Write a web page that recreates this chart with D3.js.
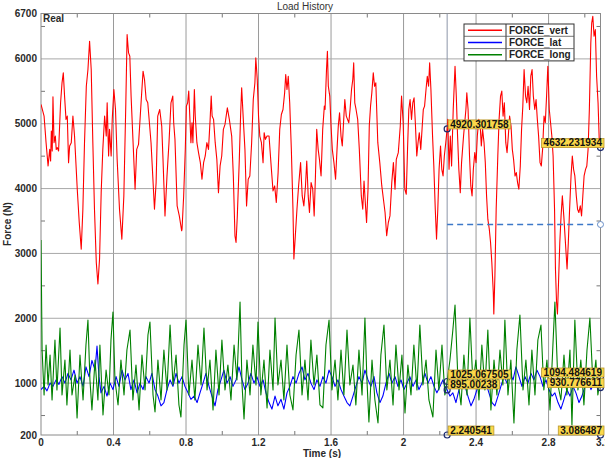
<!DOCTYPE html>
<html><head><meta charset="utf-8">
<script src="https://cdn.jsdelivr.net/npm/d3@7"></script>
<style>body{margin:0;background:#fff;overflow:hidden} text{font-family:"Liberation Sans",Arial,sans-serif}</style>
</head><body><svg id="c" width="605" height="458"></svg>
<script>
// ---- data ----
const forceVert = [[0,5297],[0.017,5118],[0.028,4708],[0.039,4350],[0.048,4605],[0.053,4426],[0.057,4887],[0.062,4580],[0.066,5415],[0.072,4708],[0.079,4810],[0.084,4605],[0.090,4631],[0.097,4580],[0.108,5323],[0.116,5631],[0.123,5785],[0.130,5426],[0.138,5067],[0.145,5118],[0.152,4400],[0.158,4656],[0.167,4708],[0.176,5118],[0.185,4810],[0.200,3990],[0.211,3477],[0.222,3067],[0.231,3682],[0.240,4708],[0.250,5579],[0.259,5836],[0.268,6272],[0.277,5836],[0.286,4708],[0.295,3682],[0.305,2861],[0.314,2528],[0.323,2913],[0.332,3938],[0.341,4605],[0.351,5118],[0.360,4810],[0.365,5323],[0.373,4503],[0.378,4913],[0.387,4503],[0.393,5067],[0.402,5528],[0.411,5220],[0.420,4451],[0.433,3682],[0.446,3221],[0.457,3887],[0.468,5323],[0.475,6374],[0.483,6092],[0.490,6041],[0.497,5426],[0.508,4708],[0.519,3990],[0.528,4605],[0.538,4682],[0.552,5323],[0.563,5810],[0.571,5682],[0.580,5374],[0.589,5323],[0.607,4708],[0.626,3682],[0.635,4092],[0.644,5118],[0.655,5220],[0.666,4964],[0.673,4451],[0.684,3579],[0.695,4195],[0.706,4708],[0.717,5323],[0.727,5426],[0.732,5015],[0.739,4759],[0.751,3733],[0.763,3579],[0.776,3349],
[0.778,3374],[0.787,3887],[0.796,4605],[0.802,5272],[0.809,5323],[0.815,5503],[0.820,5169],[0.827,4708],[0.833,5015],[0.838,4708],[0.846,5528],[0.851,5118],[0.860,4708],[0.869,4554],[0.879,4400],[0.888,4144],[0.897,4400],[0.906,4503],[0.915,4708],[0.924,4605],[0.933,5067],[0.939,5426],[0.944,5118],[0.952,5067],[0.961,4708],[0.970,4451],[0.979,3938],[0.988,4349],[0.997,4503],[1.006,4913],[1.015,4990],[1.028,5246],[1.039,5067],[1.052,4810],[1.061,4195],[1.070,3272],[1.076,3169],[1.083,3579],[1.094,4451],[1.101,5118],[1.107,5554],[1.116,5067],[1.125,4605],[1.134,3733],[1.143,4144],[1.152,4195],[1.162,4708],[1.171,5374],[1.180,5631],[1.185,6015],[1.193,5682],[1.200,5118],[1.207,4810],[1.216,4708],[1.225,4400],[1.231,4862],[1.238,4759],[1.247,4810],[1.258,4810],[1.271,4297],[1.280,3964],[1.289,4041],[1.298,3785],[1.308,4246],[1.317,4913],[1.326,5143],[1.335,5220],[1.344,5476],[1.350,5759],[1.357,5528],[1.364,5733],[1.372,5323],[1.381,4605],[1.390,3682],[1.395,2913],[1.403,3272],[1.412,3682],[1.421,4041],[1.432,4400],[1.441,3887],[1.450,3733],[1.459,4041],[1.466,4426],[1.474,3887],[1.481,3631],[1.490,4092],[1.499,3990],[1.507,3579],[1.514,4195],[1.521,4913],[1.529,4605],[1.536,4451],[1.545,4195],[1.554,4913],[1.563,5272],
[1.567,5220],[1.575,5836],[1.580,6118],[1.585,5579],[1.593,5426],[1.600,4964],[1.607,4605],[1.616,4400],[1.625,4144],[1.633,4605],[1.640,4964],[1.647,5169],[1.655,4810],[1.662,4656],[1.669,5015],[1.676,5374],[1.684,5118],[1.691,5067],[1.698,5015],[1.705,5220],[1.713,5528],[1.720,5682],[1.725,5938],[1.731,5323],[1.738,5220],[1.747,5067],[1.756,4605],[1.767,3887],[1.775,3682],[1.782,4118],[1.789,3785],[1.796,3477],[1.804,3990],[1.811,4964],[1.818,5272],[1.825,5476],[1.833,5784],[1.840,5579],[1.847,5631],[1.858,4708],[1.869,4400],[1.880,4041],[1.889,3836],[1.898,3631],[1.907,3272],[1.916,3477],[1.925,3579],[1.935,4092],[1.944,4400],[1.953,3990],[1.960,4451],[1.971,4554],[1.982,4964],[1.989,5426],[1.998,5015],[2.007,3990],[2.015,3913],[2.022,4605],[2.029,5220],[2.036,5374],[2.044,5067],[2.051,5323],[2.058,5400],[2.065,5015],[2.073,4503],[2.080,4708],[2.087,4862],[2.095,4605],[2.102,4913],[2.109,5220],[2.116,5272],[2.124,5528],[2.131,5733],[2.138,5579],[2.144,5938],[2.151,5528],[2.160,4810],[2.167,4349],[2.175,3682],[2.182,3221],[2.189,3682],[2.196,4297],[2.204,4656],[2.211,4297],[2.218,4195],[2.225,4503],[2.233,4708],[2.240541,4920.301758],[2.244,5067],[2.251,4297],[2.258,4810],[2.265,4349],[2.274,5220],[2.284,5887],[2.291,5426],[2.298,4810],[2.305,4297],[2.313,3938],[2.320,4400],[2.331,4810],[2.344,5220],
[2.349,5476],[2.356,5220],[2.364,4503],[2.371,4041],[2.378,3887],[2.385,4297],[2.393,4554],[2.400,4400],[2.407,4810],[2.415,5067],[2.422,5015],[2.429,4656],[2.436,4913],[2.444,4708],[2.451,4400],[2.458,3887],[2.465,3528],[2.473,3374],[2.480,3169],[2.487,2861],[2.495,2400],[2.498,2067],[2.504,2656],[2.511,3682],[2.520,4503],[2.527,5067],[2.535,5426],[2.542,5503],[2.549,5118],[2.556,5323],[2.564,4708],[2.571,4554],[2.578,4810],[2.585,5118],[2.593,4964],[2.600,4605],[2.607,4451],[2.615,4195],[2.622,4246],[2.629,4092],[2.636,3990],[2.644,4349],[2.651,4913],[2.658,5272],[2.665,5836],[2.673,5426],[2.680,5323],[2.687,5579],[2.695,5220],[2.702,5733],[2.709,5836],[2.716,5426],[2.724,5220],[2.731,5374],[2.738,5067],[2.745,4810],[2.753,4400],[2.760,4349],[2.767,4605],[2.775,5118],[2.782,5015],[2.789,5426],[2.796,5887],[2.804,5220],[2.811,5015],[2.818,4810],[2.825,4503],[2.833,3682],[2.838,2759],[2.844,2246],[2.849,2067],[2.855,2554],[2.862,3169],[2.869,3579],[2.876,3887],[2.884,3579],[2.893,3169],[2.902,2759],[2.909,3169],[2.916,3682],[2.924,4195],[2.931,4503],[2.938,4297],[2.945,4195],[2.953,3887],[2.960,3682],[2.967,3631],[2.975,3733],[2.982,3579],[2.989,3887],[2.996,4195],[3.004,4297],[3.011,4349],[3.018,4605],[3.025,5220],[3.033,6246],[3.038,6554],[3.044,6656],[3.051,6349],[3.058,6451],[3.065,5733],[3.073,5323],[3.080,4708],[3.086487,4632.231934]];

const forceLat = [[0,900],[0.017,950],[0.033,880],[0.050,1000],[0.066,950],[0.083,1050],[0.099,980],[0.116,1100],[0.132,1000],[0.149,1150],[0.165,1050],[0.182,1200],[0.199,1000],[0.215,1100],[0.232,950],[0.248,1250],[0.265,1100],[0.281,1350],[0.298,1200],[0.309,1570],[0.320,1100],[0.331,850],[0.348,950],[0.364,800],[0.381,1000],[0.397,900],[0.414,1100],[0.430,950],[0.447,1200],[0.463,1050],[0.480,1150],[0.496,900],[0.513,1050],[0.530,850],[0.546,1000],[0.563,900],[0.579,1100],[0.596,1000],[0.612,1150],[0.629,900],[0.645,800],[0.662,650],[0.678,700],[0.695,900],[0.712,1050],[0.728,950],[0.745,1150],[0.761,1000],[0.778,1100],[0.794,950],[0.811,850],[0.827,750],[0.844,800],[0.861,700],[0.877,850],[0.894,1000],[0.910,1150],[0.927,950],[0.943,800],[0.960,650],[0.976,900],[0.993,1050],[1.009,1200],[1.026,1000],[1.043,1100],[1.059,950],[1.076,1050],[1.092,1250],[1.109,1050],[1.125,900],[1.142,1000],[1.158,1150],[1.175,1000],[1.191,1100],[1.208,950],[1.225,1050],[1.241,850],[1.258,700],[1.274,600],[1.291,800],[1.307,650],[1.324,750],[1.340,600],[1.357,850],[1.373,950],[1.390,1100],[1.407,1000],[1.423,1150],[1.440,1250],[1.456,1050],[1.473,1150],[1.489,1000],[1.506,900],[1.522,1050],[1.539,950],[1.555,1100],[1.572,1000],[1.589,1200],[1.605,1100],[1.622,950],[1.638,1050],[1.655,900],[1.671,800],[1.688,700],[1.704,650],[1.721,800],[1.737,950],[1.754,1100],[1.771,1000],[1.787,1200],[1.804,1050],[1.820,950],[1.837,1100],[1.853,850],[1.870,700],[1.886,800],[1.903,1000],[1.920,1150],[1.936,1000],[1.953,1100],[1.969,950],[1.986,1050],[2.002,900],[2.019,1000],[2.035,1100],[2.052,950],[2.069,1050],[2.085,900],[2.102,1000],[2.118,1150],[2.135,1000],[2.151,1100],[2.168,950],[2.184,850],[2.201,950],[2.217,1050],[2.228,950],[2.240541,895.00238],[2.256,800],[2.272,850],[2.289,700],[2.306,900],[2.322,1050],[2.339,950],[2.355,800],[2.372,650],[2.388,750],[2.405,900],[2.422,1050],[2.438,1150],[2.455,1000],[2.471,850],[2.488,700],[2.504,650],[2.521,800],[2.537,950],[2.554,1100],[2.571,1000],[2.587,1150],[2.604,1050],[2.620,1250],[2.637,1100],[2.653,950],[2.670,1100],[2.686,1000],[2.703,1150],[2.719,1050],[2.736,1200],[2.753,1100],[2.769,950],[2.786,1050],[2.802,900],[2.819,800],[2.835,850],[2.852,700],[2.868,600],[2.885,750],[2.901,900],[2.918,800],[2.935,950],[2.951,850],[2.968,700],[2.984,800],[3.001,950],[3.017,1050],[3.034,900],[3.050,1000],[3.067,950],[3.086487,930.776611]];

const forceLong = [[0,3207],[0.006,1511],[0.017,817],[0.028,1588],[0.039,971],[0.050,1434],[0.061,740],[0.077,1665],[0.088,894],[0.105,1850],[0.116,817],[0.132,1357],[0.143,663],[0.160,1511],[0.171,817],[0.188,1125],[0.199,462],[0.215,1434],[0.232,740],[0.248,1588],[0.259,1973],[0.270,1048],[0.281,586],[0.298,1357],[0.314,740],[0.325,1588],[0.342,508],[0.359,1202],[0.375,817],[0.386,1665],[0.397,2097],[0.408,1048],[0.425,663],[0.441,1357],[0.458,817],[0.474,1511],[0.491,1819],[0.507,740],[0.524,1280],[0.541,586],[0.557,1434],[0.574,894],[0.590,1742],[0.601,1943],[0.618,817],[0.629,555],[0.645,1357],[0.662,740],[0.678,1511],[0.695,894],[0.712,1896],[0.728,971],[0.745,1434],[0.761,663],[0.772,477],[0.789,1588],[0.800,1973],[0.816,817],[0.833,1357],[0.849,740],[0.866,1588],[0.883,971],[0.899,1850],[0.916,894],[0.932,1357],[0.949,586],[0.965,1511],[0.982,817],[0.998,1665],[1.015,894],[1.031,1280],[1.048,740],[1.065,1588],[1.081,1048],[1.098,2251],[1.109,971],[1.120,447],[1.136,1357],[1.153,817],[1.169,1588],[1.186,971],[1.197,1943],[1.213,817],[1.230,1357],[1.247,617],[1.263,1511],[1.280,894],[1.291,2004],[1.307,971],[1.324,1357],[1.340,740],[1.357,1588],[1.373,817],[1.390,586],[1.407,1434],[1.423,1819],[1.440,817],[1.456,1357],[1.473,740],[1.489,1665],[1.506,971],[1.522,1434],[1.539,663],[1.555,617],[1.572,1588],[1.589,1973],[1.605,894],[1.622,1357],[1.638,740],[1.655,1511],[1.671,817],[1.688,1819],[1.704,971],[1.721,1280],[1.737,663],[1.754,1511],[1.771,817],[1.787,2004],[1.798,1048],[1.809,400],[1.826,1357],[1.842,740],[1.859,385],[1.875,1434],[1.892,1896],[1.908,894],[1.925,1357],[1.942,663],[1.958,1588],[1.975,894],[1.991,1434],[2.008,539],[2.024,1280],[2.041,817],[2.057,1588],[2.074,894],[2.090,1896],[2.107,971],[2.124,1357],[2.140,740],[2.162,477],[2.179,1511],[2.195,894],[2.212,1588],[2.228,817],[2.240541,1025.067505],[2.256,1357],[2.272,1819],[2.284,2205],[2.300,1048],[2.317,663],[2.333,1434],[2.350,817],[2.366,2004],[2.383,971],[2.399,1357],[2.416,740],[2.432,1588],[2.449,894],[2.465,1819],[2.482,586],[2.499,1357],[2.515,817],[2.532,1511],[2.548,971],[2.559,1973],[2.576,817],[2.592,1357],[2.609,385],[2.625,1511],[2.642,2051],[2.659,894],[2.675,1357],[2.692,663],[2.708,1511],[2.725,817],[2.741,1665],[2.758,1896],[2.774,894],[2.791,1357],[2.808,586],[2.824,1588],[2.835,2251],[2.852,971],[2.868,740],[2.885,1434],[2.901,817],[2.918,1511],[2.929,354],[2.945,1973],[2.962,894],[2.978,1357],[2.995,663],[3.012,1511],[3.028,2004],[3.045,971],[3.061,1357],[3.072,817],[3.086487,1094.484619]];

const seriesNames = ["FORCE_vert","FORCE_lat","FORCE_long"];
const seriesColors = ["#ff0000","#0000ff","#008000"];
const xTickValues = [0,0.4,0.8,1.2,1.6,2,2.4,2.8,3.1];
const xTickLabels = ["0","0.4","0.8","1.2","1.6","2","2.4","2.8","3.1"];
const yTickValues = [200,1000,2000,3000,4000,5000,6000,6700];
const cursorTimes = [2.240541,3.086487];
const cursorVert = [4920.301758,4632.231934];
const cursorLong = [1025.067505,1094.484619];
const cursorLat = [895.00238,930.776611];
const cursorTimeLabels = ["2.240541","3.086487"];
const cursorValueLabels = {vert:["4920.301758","4632.231934"],long:["1025.067505","1094.484619"],lat:["895.00238","930.776611"]};
const refLevel = 3446;

// ---- chart ----
const svg = d3.select("#c");
const L=41, R=600.5, T=13.5, B=435;
const x = d3.scaleLinear().domain([0,3.086487]).range([L,R]);
const y = d3.scaleLinear().domain([200,6700]).range([B,T]);

const g = svg.append("g");
g.selectAll(".vg").data([0.4,0.8,1.2,1.6,2,2.4,2.8]).enter().append("line")
  .attr("x1",d=>x(d)).attr("x2",d=>x(d)).attr("y1",T).attr("y2",B)
  .attr("stroke","#9a9a9a").attr("stroke-width",1);
g.selectAll(".hg").data([1000,2000,3000,4000,5000,6000]).enter().append("line")
  .attr("x1",L).attr("x2",R).attr("y1",d=>y(d)).attr("y2",d=>y(d))
  .attr("stroke","#a8a8a8").attr("stroke-width",1);

const xMinor = [0.2,0.6,1.0,1.4,1.8,2.2,2.6,3.0];
xMinor.forEach(d=>{
  g.append("line").attr("x1",x(d)).attr("x2",x(d)).attr("y1",B).attr("y2",B-4).attr("stroke","#777");
  g.append("line").attr("x1",x(d)).attr("x2",x(d)).attr("y1",T).attr("y2",T+4).attr("stroke","#777");
});
const yMinor = [500,1500,2500,3500,4500,5500,6500];
yMinor.forEach(d=>{
  g.append("line").attr("x1",L).attr("x2",L+4).attr("y1",y(d)).attr("y2",y(d)).attr("stroke","#777");
  g.append("line").attr("x1",R).attr("x2",R-4).attr("y1",y(d)).attr("y2",y(d)).attr("stroke","#777");
});

svg.append("rect").attr("x",L).attr("y",T).attr("width",R-L).attr("height",B-T)
  .attr("fill","none").attr("stroke","#8a8a8a").attr("stroke-width",1);

svg.append("line").attr("x1",x(cursorTimes[0])).attr("x2",x(cursorTimes[0])).attr("y1",T).attr("y2",B)
  .attr("stroke","#8c96a8").attr("stroke-width",1);

const line = d3.line().x(d=>x(d[0])).y(d=>y(d[1]));
svg.append("clipPath").attr("id","pc").append("rect").attr("x",L).attr("y",T).attr("width",R-L).attr("height",B-T);
const series = [forceVert, forceLat, forceLong];
series.forEach((s,i)=>{
  svg.append("path").datum(s).attr("d",line).attr("fill","none")
    .attr("stroke",seriesColors[i]).attr("stroke-width",1.1)
    .attr("stroke-linejoin","round").attr("clip-path","url(#pc)");
});

svg.append("line").attr("x1",x(cursorTimes[0])).attr("x2",x(cursorTimes[1]))
  .attr("y1",y(refLevel)).attr("y2",y(refLevel))
  .attr("stroke","#3c78c8").attr("stroke-width",1.6).attr("stroke-dasharray","6,4");
svg.append("circle").attr("cx",x(cursorTimes[1])).attr("cy",y(refLevel)).attr("r",3)
  .attr("fill","#fff").attr("stroke","#6a90c8").attr("stroke-width",1);

const tickFont = {size:"10px", weight:"bold", fill:"#2a2a2a"};
svg.selectAll(".xl").data(xTickValues).enter().append("text")
  .attr("x",d=>x(d)).attr("y",446).attr("text-anchor","middle")
  .attr("font-size",tickFont.size).attr("font-weight",tickFont.weight).attr("fill",tickFont.fill)
  .text((d,i)=>xTickLabels[i]);
svg.selectAll(".yl").data(yTickValues).enter().append("text")
  .attr("x",37).attr("y",d=>y(d)+3.5).attr("text-anchor","end")
  .attr("font-size",tickFont.size).attr("font-weight",tickFont.weight).attr("fill",tickFont.fill)
  .text(d=>d);

svg.append("text").attr("x",305).attr("y",10).attr("text-anchor","middle")
  .attr("font-size","10px").attr("fill","#333").text("Load History");
svg.append("text").attr("x",322).attr("y",456.5).attr("text-anchor","middle")
  .attr("font-size","10px").attr("font-weight","bold").attr("fill","#2a2a2a").text("Time (s)");
svg.append("text").attr("transform","translate(11,224) rotate(-90)").attr("text-anchor","middle")
  .attr("font-size","10px").attr("font-weight","bold").attr("fill","#2a2a2a").text("Force (N)");
svg.append("text").attr("x",43).attr("y",22).attr("font-size","10px").attr("font-weight","bold")
  .attr("fill","#2a2a2a").text("Real");

const lg = svg.append("g");
const lx=464, ly=24, lw=110, rh=12.3;
lg.append("rect").attr("x",lx).attr("y",ly).attr("width",lw).attr("height",rh*3)
  .attr("fill","#fff").attr("stroke","#333").attr("stroke-width",1);
lg.append("line").attr("x1",lx+42).attr("x2",lx+42).attr("y1",ly).attr("y2",ly+rh*3).attr("stroke","#333");
[1,2].forEach(k=>lg.append("line").attr("x1",lx).attr("x2",lx+lw).attr("y1",ly+rh*k).attr("y2",ly+rh*k).attr("stroke","#555").attr("stroke-width",0.8));
seriesNames.forEach((n,i)=>{
  const cy = ly + rh*i + rh/2;
  lg.append("line").attr("x1",lx+4).attr("x2",lx+38).attr("y1",cy).attr("y2",cy)
    .attr("stroke",seriesColors[i]).attr("stroke-width",1.5);
  lg.append("text").attr("x",lx+45).attr("y",cy+3.6).attr("font-size","10px").attr("font-weight","bold")
    .attr("fill","#222").text(n);
});

function tip(px, py, label, align){
  const t = svg.append("text").attr("font-size","10px").attr("font-weight","bold").attr("fill","#111").text(label);
  const w = t.node().getComputedTextLength()+4, h=9;
  const bx = align==="left" ? px+1 : px+3.5-w;
  const by = py - h;
  svg.insert("rect", () => t.node()).attr("x",bx).attr("y",by).attr("width",w).attr("height",h)
    .attr("fill","#fbd84a").attr("stroke","#b8962e").attr("stroke-width",0.8);
  t.attr("x",bx+2).attr("y",by+h-1.2);
}
function marker(px,py){
  svg.append("circle").attr("cx",px).attr("cy",py).attr("r",3).attr("fill","none")
    .attr("stroke","#1c2a6e").attr("stroke-width",1.2);
}
cursorTimes.forEach((t,i)=>{
  const px = x(t), al = i===0 ? "left" : "right";
  marker(px, y(cursorVert[i])); marker(px, y(cursorLong[i])); marker(px, y(cursorLat[i])); marker(px, B);
  tip(px, y(cursorVert[i]), cursorValueLabels.vert[i], al);
  tip(px, y(cursorLong[i]) - (i===0?2.5:0), cursorValueLabels.long[i], al);
  tip(px, y(cursorLat[i]) - (i===0?1:0), cursorValueLabels.lat[i], al);
  tip(px, B, cursorTimeLabels[i], al);
});
</script></body></html>
